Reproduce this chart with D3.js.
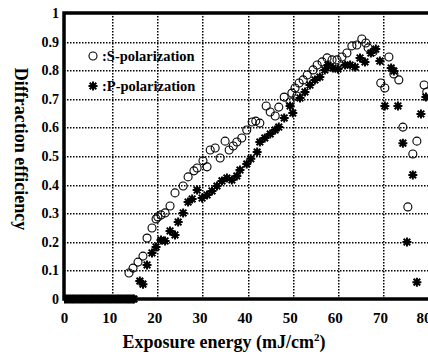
<!DOCTYPE html>
<html>
<head>
<meta charset="utf-8">
<script src="https://cdn.jsdelivr.net/npm/d3@7"></script>
<style>
  body { margin: 0; background: #fff; }
  text { font-family: "Liberation Serif", "Times New Roman", serif; font-weight: bold; }
</style>
</head>
<body>
<div id="outlet"></div>
<script>
// tick values
const xTicks = [0, 10, 20, 30, 40, 50, 60, 70, 80];
const yTicks = [0, 0.1, 0.2, 0.3, 0.4, 0.5, 0.6, 0.7, 0.8, 0.9, 1];
const yTickLabels = ["0", "0.1", "0.2", "0.3", "0.4", "0.5", "0.6", "0.7", "0.8", "0.9", "1"];

// S-polarization (circles)
const sX = [14.4, 15.3, 16.4, 17.5, 18.4, 19.5, 20.4, 20.8, 21.5, 22.4, 23.5, 24.6, 26.4, 27.5, 28.8, 29.5,
  30.8, 31.7, 32.4, 33.5, 34.6, 35.7, 36.6, 37.5, 38.3, 39.4, 40.5, 41.7, 42.5, 43.4, 44.8, 45.7, 46.8, 47.6,
  48.8, 50.1, 51.6, 50.5, 51.2, 52.1, 53.0, 53.9, 55.2, 56.1, 57.2, 58.3, 59.4, 60.5, 61.6, 62.7, 63.8, 64.9,
  66.0, 66.9, 67.4, 68.5, 70.2, 71.1, 72.0, 73.1, 74.2, 75.1, 76.2, 77.3, 78.2, 79.8, 80.4];
const sY = [0.091, 0.108, 0.129, 0.150, 0.213, 0.248, 0.280, 0.287, 0.294, 0.301, 0.325, 0.371, 0.395, 0.427, 0.448, 0.458,
  0.483, 0.462, 0.521, 0.528, 0.493, 0.552, 0.521, 0.535, 0.549, 0.563, 0.591, 0.619, 0.622, 0.615, 0.675, 0.654, 0.640, 0.671,
  0.706, 0.689, 0.710, 0.720, 0.738, 0.755, 0.766, 0.783, 0.801, 0.818, 0.829, 0.843, 0.836, 0.836, 0.846, 0.860, 0.885, 0.888,
  0.909, 0.895, 0.878, 0.864, 0.755, 0.738, 0.846, 0.787, 0.766, 0.601, 0.322, 0.507, 0.552, 0.748, 0.724];

// P-polarization (asterisks)
const pX = [0, 0.4, 0.8, 1.2, 1.6, 2.0, 2.4, 2.8, 3.2, 3.6, 4.0, 4.4, 4.8, 5.2, 5.6, 6.0, 6.4, 6.8, 7.2, 7.6,
  8.0, 8.4, 8.8, 9.2, 9.6, 10.0, 10.4, 10.8, 11.2, 11.6, 12.0, 12.4, 12.8, 13.2, 13.6, 14.0, 14.4, 14.8, 15.2, 15.5,
  16.8, 17.5, 18.4, 19.5, 20.4, 21.5, 22.4, 23.5, 24.6, 25.3, 26.4, 27.5, 28.4, 29.5, 30.6, 31.7, 32.8, 33.9,
  35.0, 36.1, 37.2, 38.3, 39.0, 40.5, 41.4, 42.8, 43.4, 44.5, 45.7, 46.8, 47.6, 48.8, 50.1, 50.7, 52.3, 53.4,
  54.5, 55.6, 56.7, 57.8, 58.5, 59.6, 60.7, 62.3, 63.4, 64.5, 65.6, 66.7, 68.0, 69.1, 70.0, 72.5, 73.1, 71.1,
  74.0, 79.1, 75.1, 77.3, 76.0, 78.2, 80.2];
const pY = [0, 0, 0, 0, 0, 0, 0, 0, 0, 0, 0, 0, 0, 0, 0, 0, 0, 0, 0, 0,
  0, 0, 0, 0, 0, 0, 0, 0, 0, 0, 0, 0, 0, 0, 0, 0, 0, 0, 0, 0,
  0.063, 0.052, 0.119, 0.161, 0.182, 0.206, 0.203, 0.238, 0.224, 0.269, 0.301, 0.339, 0.350, 0.381, 0.353, 0.364, 0.378, 0.395,
  0.413, 0.423, 0.416, 0.430, 0.451, 0.472, 0.490, 0.514, 0.549, 0.563, 0.577, 0.591, 0.601, 0.633, 0.675, 0.650, 0.703, 0.724,
  0.748, 0.766, 0.776, 0.801, 0.818, 0.808, 0.804, 0.818, 0.818, 0.811, 0.843, 0.829, 0.860, 0.874, 0.832, 0.808, 0.797, 0.675,
  0.675, 0.647, 0.545, 0.434, 0.199, 0.059, 0.706];

const width = 428, height = 355;
const marginLeft = 64, marginTop = 13, marginBottom = 56;

const xScale = d3.scaleLinear().domain([0, 80]).range([marginLeft, 425]);
const yScale = d3.scaleLinear().domain([0, 1]).range([height - marginBottom, marginTop]);

const svg = d3.select("#outlet")
  .append("svg")
  .attr("width", width)
  .attr("height", height);

// clip so markers past the right edge get cut like the scan
svg.append("clipPath").attr("id", "plot")
  .append("rect")
  .attr("x", marginLeft).attr("y", marginTop - 5)
  .attr("width", width - marginLeft).attr("height", height - marginBottom - marginTop + 10);

// dotted grid: one filled path per grid line, made of small squares
const vx = xTicks.filter(d => d > 0 && d < 80).map(d => Math.round(xScale(d) + 3));
const hy = yTicks.filter(d => d > 0 && d < 1).map(d => Math.round(yScale(d)));
const dot = (x, y) => `M${x},${y}h1.5v1.5h-1.5Z`;

const grid = svg.append("g").attr("fill", "#000").attr("stroke", "none");

grid.selectAll("path.v")
  .data(vx)
  .join("path")
  .attr("class", "v")
  .attr("d", x => d3.range(yScale(1), yScale(0), 3).map(y => dot(x, Math.round(y))).join(""));

grid.selectAll("path.h")
  .data(hy)
  .join("path")
  .attr("class", "h")
  .attr("d", y => d3.range(xScale(0), width, 3).map(x => dot(Math.round(x), y)).join(""));

// axes
const xAxis = d3.axisBottom(xScale).tickValues(xTicks).tickSize(0).tickPadding(13);
const yAxis = d3.axisLeft(yScale).tickValues(yTicks).tickSize(0).tickPadding(4)
  .tickFormat((d, i) => yTickLabels[i]);

svg.append("g")
  .attr("transform", `translate(0,${yScale(0)})`)
  .call(xAxis)
  .call(g => g.select(".domain").remove())
  .call(g => g.selectAll("text").attr("font-size", 15).attr("fill", "#000")
    .attr("font-family", "Liberation Serif"))
  .call(g => g.selectAll(".tick").filter(d => d === 80).select("text")
    .attr("text-anchor", "end").attr("dx", 6));

svg.append("g")
  .attr("transform", `translate(${marginLeft - 1},0)`)
  .call(yAxis)
  .call(g => g.select(".domain").remove())
  .call(g => g.selectAll("text").attr("font-size", 14).attr("fill", "#000")
    .attr("font-family", "Liberation Serif"));

// frame (right side falls outside the window)
svg.append("path")
  .attr("fill", "none")
  .attr("stroke", "#000")
  .attr("stroke-width", 3.5)
  .attr("d", `M${width + 5},${yScale(1)}H${xScale(0)}V${yScale(0)}H${width + 5}`);

// markers
const star = "M0,-4.5V4.5M-4.5,0H4.5M-3.3,-3.3L3.3,3.3M-3.3,3.3L3.3,-3.3";

const marks = svg.append("g").attr("clip-path", "url(#plot)");

marks.append("g")
  .attr("fill", "none")
  .attr("stroke", "#000")
  .attr("stroke-width", 2)
  .selectAll("path")
  .data(d3.range(pX.length))
  .join("path")
  .attr("transform", i => `translate(${xScale(pX[i])},${yScale(pY[i])})`)
  .attr("d", star);

marks.append("g")
  .attr("fill", "none")
  .attr("stroke", "#000")
  .attr("stroke-width", 1.1)
  .selectAll("circle")
  .data(d3.range(sX.length))
  .join("circle")
  .attr("cx", i => xScale(sX[i]))
  .attr("cy", i => yScale(sY[i]))
  .attr("r", 4);

// legend
const legend = svg.append("g");
legend.append("circle")
  .attr("cx", 93).attr("cy", 56).attr("r", 4)
  .attr("fill", "none").attr("stroke", "#000").attr("stroke-width", 1.1);
legend.append("text")
  .attr("x", 102).attr("y", 61)
  .attr("font-size", 14.5)
  .text(":S-polarization");
legend.append("path")
  .attr("transform", "translate(93,86)")
  .attr("d", star)
  .attr("fill", "none").attr("stroke", "#000").attr("stroke-width", 2);
legend.append("text")
  .attr("x", 102).attr("y", 91)
  .attr("font-size", 14.5)
  .text(":P-polarization");

// axis titles
svg.append("text")
  .attr("transform", "translate(15,149) rotate(90)")
  .attr("text-anchor", "middle")
  .attr("font-size", 18)
  .text("Diffraction efficiency");

const xt = svg.append("text")
  .attr("x", 224).attr("y", 348)
  .attr("text-anchor", "middle")
  .attr("font-size", 18);
xt.append("tspan").text("Exposure energy (mJ/cm");
xt.append("tspan").attr("dy", -7).attr("font-size", 11).text("2");
xt.append("tspan").attr("dy", 7).text(")");
</script>
</body>
</html>
